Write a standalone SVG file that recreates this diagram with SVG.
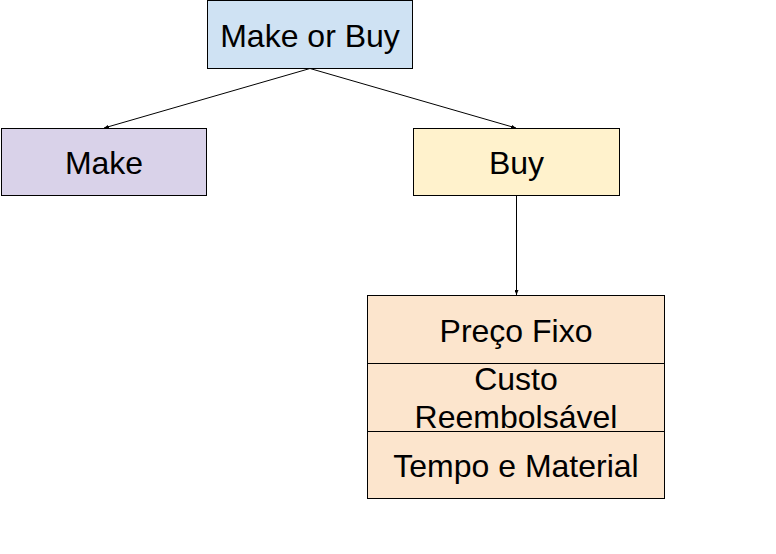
<svg xmlns="http://www.w3.org/2000/svg" width="776" height="554" viewBox="0 0 776 554">
<style>
.box{stroke:#000;stroke-width:1}
.t{font-family:"Liberation Sans",Arial,sans-serif;font-size:32px;fill:#000;text-anchor:middle}
.c{stroke:#000;stroke-width:1;fill:none}
</style>
<defs>
<marker id="ah" viewBox="0 0 10 8" refX="10" refY="4" markerWidth="5" markerHeight="4" markerUnits="userSpaceOnUse" orient="auto">
<path d="M0,0 L10,4 L0,8 z" fill="#000"/>
</marker>
</defs>
<rect width="776" height="554" fill="#fff"/>
<g id="connectors">
<line class="c" x1="310" y1="68.5" x2="104" y2="128" marker-end="url(#ah)"/>
<line class="c" x1="310" y1="68.5" x2="516" y2="128" marker-end="url(#ah)"/>
<line class="c" x1="516.5" y1="196" x2="516.5" y2="295" marker-end="url(#ah)"/>
</g>
<g id="make-or-buy">
<rect class="box" x="207.5" y="0.5" width="205" height="68" fill="#cfe2f3"/>
<text class="t" x="310" y="46.5">Make or Buy</text>
</g>
<g id="make">
<rect class="box" x="1.5" y="128.5" width="205" height="67" fill="#d9d2e9"/>
<text class="t" x="104" y="173.5">Make</text>
</g>
<g id="buy">
<rect class="box" x="413.5" y="128.5" width="206" height="67" fill="#fff2cc"/>
<text class="t" x="516.5" y="173.5">Buy</text>
</g>
<g id="contract-types">
<rect class="box" x="367.5" y="295.5" width="297" height="203" fill="#fce5cd"/>
<line class="c" x1="367.5" y1="363.5" x2="664.5" y2="363.5"/>
<line class="c" x1="367.5" y1="431.5" x2="664.5" y2="431.5"/>
<text class="t" x="516" y="341.5">Preço Fixo</text>
<text class="t" x="516" y="390">Custo</text>
<text class="t" x="516" y="428">Reembolsável</text>
<text class="t" x="516" y="476.5">Tempo e Material</text>
</g>
</svg>
